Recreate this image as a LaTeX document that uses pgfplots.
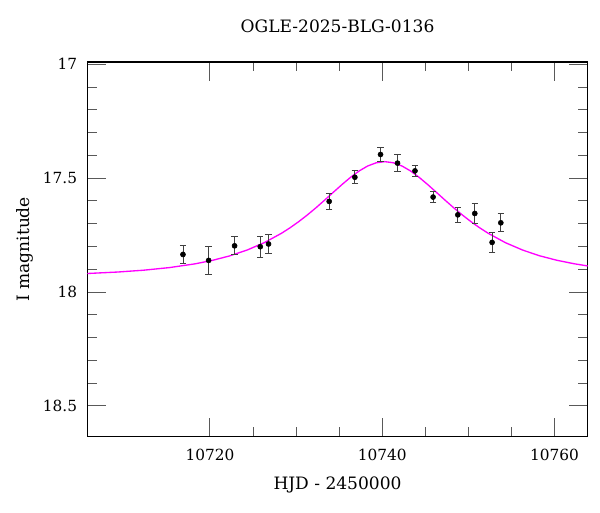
\documentclass[border=0pt]{standalone}
\usepackage{fontspec}
\setmainfont{DejaVu Serif}
\usepackage{pgfplots}
\pgfplotsset{compat=1.18}
\usepackage{pgfplotstable}
\definecolor{modelmag}{RGB}{255,0,255}

\pgfplotstableread{
x y e
10716.87 17.835 0.041
10719.85 17.861 0.060
10722.86 17.797 0.040
10725.84 17.801 0.046
10726.80 17.789 0.041
10733.84 17.602 0.035
10736.82 17.496 0.028
10739.80 17.396 0.031
10741.77 17.434 0.036
10743.80 17.468 0.025
10745.90 17.583 0.024
10748.77 17.661 0.034
10750.74 17.655 0.044
10752.75 17.782 0.044
10753.76 17.696 0.040
}\datatable

\pgfplotstableread{
x y
10705.77 17.9186
10709.3 17.9121
10712.3 17.9041
10715.3 17.8926
10718.3 17.8760
10720.3 17.8608
10722.3 17.8412
10724.3 17.8158
10726.3 17.7833
10728.3 17.7421
10729.3 17.7178
10730.3 17.6910
10731.3 17.6617
10732.3 17.6302
10733.3 17.5969
10734.3 17.5627
10735.3 17.5289
10736.3 17.4969
10737.3 17.4688
10738.3 17.4467
10739.3 17.4324
10740.3 17.4275
10741.3 17.4324
10742.3 17.4467
10743.3 17.4688
10744.3 17.4969
10745.3 17.5289
10746.3 17.5627
10747.3 17.5969
10748.3 17.6302
10749.3 17.6617
10750.3 17.6910
10751.3 17.7178
10752.3 17.7421
10754.3 17.7833
10756.3 17.8158
10758.3 17.8412
10760.3 17.8608
10762.3 17.8760
10763.85 17.8854
}\modeltable

\begin{document}
\begin{tikzpicture}
\useasboundingbox (-65.5pt,-56.5pt) rectangle (384.5pt,327.5pt);
\begin{axis}[
  at={(0pt,0pt)}, anchor=south west,
  width=375.3pt, height=281.0pt, scale only axis,
  xmin=10705.77, xmax=10763.85,
  ymin=16.99, ymax=18.635,
  y dir=reverse,
  scaled ticks=false,
  xtick={10720,10740,10760},
  ytick={17,17.5,18,18.5},
  yticklabels={17,17.5,18,18.5},
  xticklabels={10720,10740,10760},
  minor x tick num=3,
  minor y tick num=4,
  tick align=inside,
  major tick length=14.25pt,
  minor tick length=7.1pt,
  tick style={black!65, line width=0.7pt},
  axis line style={black, line width=0.8pt},
  ticklabel style={font=\fontsize{11.5}{13}\selectfont},
  xticklabel style={anchor=center, yshift=-13.5pt},
  yticklabel style={anchor=east, inner sep=0pt, xshift=-7.5pt},
  title={OGLE-2025-BLG-0136},
  title style={at={(axis description cs:0.5,1.073)}, anchor=center, font=\fontsize{12.8}{14}\selectfont},
  xlabel={HJD - 2450000},
  xlabel style={at={(axis description cs:0.5,-0.128)}, anchor=center, font=\fontsize{12.8}{14}\selectfont},
  ylabel={I magnitude},
  ylabel style={at={(axis description cs:-0.124,0.5)}, anchor=center, font=\fontsize{12.8}{14}\selectfont},
  clip=true,
]
\addplot[modelmag, line width=1pt, no markers] table[x=x, y=y] {\modeltable};
\addplot[only marks, mark=*, mark size=1.9pt, black,
  error bars/.cd, y dir=both, y explicit,
  error bar style={black!75, line width=0.7pt},
  error mark options={rotate=90, mark size=2.4pt, black!75, line width=0.7pt}]
  table[x=x, y=y, y error=e] {\datatable};
\end{axis}
\end{tikzpicture}
\end{document}
